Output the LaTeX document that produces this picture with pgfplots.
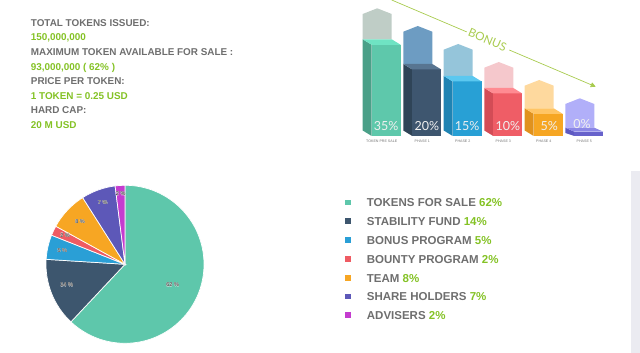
\documentclass[border=0pt]{standalone}
\usepackage{fontspec}
\setmainfont{Liberation Sans}
\newfontfamily\lato{Lato}
\usepackage{pgfplots}
\pgfplotsset{compat=1.18}
\usetikzlibrary{arrows.meta}
\definecolor{greytext}{HTML}{6E6E6E}
\definecolor{greentext}{HTML}{84C225}
\definecolor{bonus}{HTML}{A8CB4E}
\definecolor{stripe}{HTML}{EBEBF1}
% pie colours
\definecolor{cTFS}{HTML}{5EC7AB}
\definecolor{cSF}{HTML}{3D566E}
\definecolor{cBP}{HTML}{2A9FD6}
\definecolor{cBtP}{HTML}{EF5B63}
\definecolor{cTeam}{HTML}{F7A623}
\definecolor{cSH}{HTML}{5D58B8}
\definecolor{cAdv}{HTML}{C43CCF}
% bar colours: ghost, top, side, front
\definecolor{g1}{HTML}{BFCDC6}\definecolor{t1}{HTML}{6FE3C3}\definecolor{s1}{HTML}{4AA088}\definecolor{f1}{HTML}{5EC8AB}
\definecolor{g2}{HTML}{6D9CC2}\definecolor{t2}{HTML}{587591}\definecolor{s2}{HTML}{2F4457}\definecolor{f2}{HTML}{3E566F}
\definecolor{g3}{HTML}{95C5DA}\definecolor{t3}{HTML}{5BC8F0}\definecolor{s3}{HTML}{1F83B3}\definecolor{f3}{HTML}{28A0D5}
\definecolor{g4}{HTML}{F5C8CC}\definecolor{t4}{HTML}{FF8B92}\definecolor{s4}{HTML}{D34C56}\definecolor{f4}{HTML}{EF5D66}
\definecolor{g5}{HTML}{FED99E}\definecolor{t5}{HTML}{FFC565}\definecolor{s5}{HTML}{E0921E}\definecolor{f5}{HTML}{F6A623}
\definecolor{g6}{HTML}{B1AFF9}\definecolor{t6}{HTML}{8C88E6}\definecolor{s6}{HTML}{5E59C2}\definecolor{f6}{HTML}{6762CB}
% thin white halo behind small pie labels
\newcommand\halo[1]{\leavevmode
  \rlap{\textcolor{white!80!gray}{\kern0.22pt #1}}%
  \rlap{\textcolor{white!80!gray}{\kern-0.22pt #1}}%
  \rlap{\textcolor{white!80!gray}{\raisebox{0.22pt}{#1}}}%
  \rlap{\textcolor{white!80!gray}{\raisebox{-0.22pt}{#1}}}%
  #1}
\begin{document}
\begin{tikzpicture}
\useasboundingbox (0pt,0pt) rectangle (640pt,353pt);
\begin{axis}[at={(0pt,0pt)}, anchor=south west, x=1pt, y=1pt,
  xmin=0, xmax=640, ymin=0, ymax=353, hide axis, clip=false, no markers]
% ---------- grey stripe ----------
\fill[stripe] (axis cs:631,0) rectangle (axis cs:640,182.3);
% ---------- top-left text ----------
\begin{scope}[every node/.style={anchor=base west, inner sep=0pt, font=\bfseries\fontsize{9.9}{12}\selectfont}]
\node[text=greytext]  at (axis cs:30.7,326)   {TOTAL TOKENS ISSUED:};
\node[text=greentext] at (axis cs:30.7,312)   {150,000,000};
\node[text=greytext]  at (axis cs:30.7,297)   {MAXIMUM TOKEN AVAILABLE FOR SALE :};
\node[text=greentext] at (axis cs:30.7,282.7) {93,000,000 ( 62\% )};
\node[text=greytext]  at (axis cs:30.7,268.3) {PRICE PER TOKEN:};
\node[text=greentext] at (axis cs:30.7,253.7) {1 TOKEN = 0.25 USD};
\node[text=greytext]  at (axis cs:30.7,239.3) {HARD CAP:};
\node[text=greentext] at (axis cs:30.7,224.7) {20 M USD};
\end{scope}
% ---------- bonus bars (3D) ----------
% bar 1 : 35%
\addplot[fill=g1, draw=none] coordinates {(362.7,313.7)(362.7,339)(377.2,344.7)(391.7,339)(391.7,313.7)} -- cycle;
\addplot[fill=s1, draw=none] coordinates {(362.7,313.7)(371.7,308.2)(371.7,217)(362.7,222.5)} -- cycle;
\addplot[fill=f1, draw=none] coordinates {(371.7,308.2)(400.7,308.2)(400.7,217)(371.7,217)} -- cycle;
\addplot[fill=t1, draw=none] coordinates {(362.7,313.7)(391.7,313.7)(400.7,308.2)(371.7,308.2)} -- cycle;
% bar 2 : 20%
\addplot[fill=g2, draw=none] coordinates {(403.3,289)(403.3,321.3)(417.8,327)(432.3,321.3)(432.3,289)} -- cycle;
\addplot[fill=s2, draw=none] coordinates {(403.3,289)(412.3,283.5)(412.3,217)(403.3,222.5)} -- cycle;
\addplot[fill=f2, draw=none] coordinates {(412.3,283.5)(441.3,283.5)(441.3,217)(412.3,217)} -- cycle;
\addplot[fill=t2, draw=none] coordinates {(403.3,289)(432.3,289)(441.3,283.5)(412.3,283.5)} -- cycle;
% bar 3 : 15%
\addplot[fill=g3, draw=none] coordinates {(443.7,277)(443.7,303.3)(458.2,309)(472.7,303.3)(472.7,277)} -- cycle;
\addplot[fill=s3, draw=none] coordinates {(443.7,277)(452.7,271.5)(452.7,217)(443.7,222.5)} -- cycle;
\addplot[fill=f3, draw=none] coordinates {(452.7,271.5)(481.7,271.5)(481.7,217)(452.7,217)} -- cycle;
\addplot[fill=t3, draw=none] coordinates {(443.7,277)(472.7,277)(481.7,271.5)(452.7,271.5)} -- cycle;
% bar 4 : 10%
\addplot[fill=g4, draw=none] coordinates {(484.3,265)(484.3,285.3)(498.8,291)(513.3,285.3)(513.3,265)} -- cycle;
\addplot[fill=s4, draw=none] coordinates {(484.3,265)(493.3,259.5)(493.3,217)(484.3,222.5)} -- cycle;
\addplot[fill=f4, draw=none] coordinates {(493.3,259.5)(522.3,259.5)(522.3,217)(493.3,217)} -- cycle;
\addplot[fill=t4, draw=none] coordinates {(484.3,265)(513.3,265)(522.3,259.5)(493.3,259.5)} -- cycle;
% bar 5 : 5%
\addplot[fill=g5, draw=none] coordinates {(524.7,244.7)(524.7,267.3)(539.2,273)(553.7,267.3)(553.7,244.7)} -- cycle;
\addplot[fill=s5, draw=none] coordinates {(524.7,244.7)(533.7,239.2)(533.7,217)(524.7,222.5)} -- cycle;
\addplot[fill=f5, draw=none] coordinates {(533.7,239.2)(562.7,239.2)(562.7,217)(533.7,217)} -- cycle;
\addplot[fill=t5, draw=none] coordinates {(524.7,244.7)(553.7,244.7)(562.7,239.2)(533.7,239.2)} -- cycle;
% bar 6 : 0%
\addplot[fill=g6, draw=none] coordinates {(565.3,225.3)(565.3,249)(579.8,254.7)(594.3,249)(594.3,225.3)} -- cycle;
\addplot[fill=s6, draw=none] coordinates {(565.3,225.3)(574.3,221.3)(574.3,217)(565.3,220)} -- cycle;
\addplot[fill=f6, draw=none] coordinates {(574.3,221.3)(603.3,221.3)(603.3,217)(574.3,217)} -- cycle;
\addplot[fill=t6, draw=none] coordinates {(565.3,225.3)(594.3,225.3)(603.3,221.3)(574.3,221.3)} -- cycle;
% percent labels
\begin{scope}[every node/.style={inner sep=0pt, text=white!94!black, font=\lato\fontsize{12.5}{14}\selectfont}]
\node at (axis cs:386.2,227) {35\%};
\node at (axis cs:426.8,227) {20\%};
\node at (axis cs:467.2,227) {15\%};
\node at (axis cs:507.8,227) {10\%};
\node at (axis cs:549.2,227) {5\%};
\node at (axis cs:582.0,229) {0\%};
\end{scope}
% category labels
\begin{scope}[every node/.style={inner sep=0pt, text=black!55, font=\fontsize{3.6}{4}\selectfont}]
\node at (axis cs:381.7,211.3) {TOKEN PRE SALE};
\node at (axis cs:422.3,211.3) {PHASE 1};
\node at (axis cs:462.7,211.3) {PHASE 2};
\node at (axis cs:503.3,211.3) {PHASE 3};
\node at (axis cs:543.7,211.3) {PHASE 4};
\node at (axis cs:584.3,211.3) {PHASE 5};
\end{scope}
% BONUS arrow
\draw[bonus, line width=0.7pt] (axis cs:391.7,353) -- (axis cs:466.7,321.1);
\draw[bonus, line width=0.7pt, -{Triangle[length=5pt,width=5pt]}] (axis cs:509.3,303) -- (axis cs:595.7,266.3);
\node[rotate=-23, inner sep=0pt, text=bonus, font=\lato\fontsize{11.6}{13}\selectfont] at (axis cs:487.5,313) {BONUS};
% ---------- pie ----------
\begin{scope}[draw=white, line width=0.7pt]
\filldraw[fill=cTFS]  (axis cs:125,88.7) -- (axis cs:125,167.7) arc[start angle=90, end angle=-133.2, radius=79pt] -- cycle;
\filldraw[fill=cSF]   (axis cs:125,88.7) -- ++(-133.2:79pt) arc[start angle=-133.2, end angle=-183.6, radius=79pt] -- cycle;
\filldraw[fill=cBP]   (axis cs:125,88.7) -- ++(-183.6:79pt) arc[start angle=-183.6, end angle=-201.6, radius=79pt] -- cycle;
\filldraw[fill=cBtP]  (axis cs:125,88.7) -- ++(-201.6:79pt) arc[start angle=-201.6, end angle=-208.8, radius=79pt] -- cycle;
\filldraw[fill=cTeam] (axis cs:125,88.7) -- ++(-208.8:79pt) arc[start angle=-208.8, end angle=-237.6, radius=79pt] -- cycle;
\filldraw[fill=cSH]   (axis cs:125,88.7) -- ++(-237.6:79pt) arc[start angle=-237.6, end angle=-262.8, radius=79pt] -- cycle;
\filldraw[fill=cAdv]  (axis cs:125,88.7) -- ++(-262.8:79pt) arc[start angle=-262.8, end angle=-270, radius=79pt] -- cycle;
\end{scope}
\begin{scope}[every node/.style={inner sep=0pt, text=black!85, font=\fontsize{5.5}{6}\selectfont}]
\node at (axis cs:172.7,68)    {\halo{62 \%}};
\node at (axis cs:66.7,68)     {\halo{14 \%}};
\node at (axis cs:62.3,102.3)  {\halo{5 \%}};
\node at (axis cs:65,117.7)    {\halo{2 \%}};
\node at (axis cs:80,131.3)    {\halo{8 \%}};
\node at (axis cs:102.7,150.3) {\halo{7 \%}};
\node at (axis cs:120.7,159)   {\halo{2 \%}};
\end{scope}
% ---------- legend ----------
\fill[cTFS]  (axis cs:345,147.5) rectangle (axis cs:350.7,153.2);
\fill[cSF]   (axis cs:345,128.9) rectangle (axis cs:350.7,134.6);
\fill[cBP]   (axis cs:345,109.9) rectangle (axis cs:350.7,115.6);
\fill[cBtP]  (axis cs:345,90.9)  rectangle (axis cs:350.7,96.6);
\fill[cTeam] (axis cs:345,72.2)  rectangle (axis cs:350.7,77.9);
\fill[cSH]   (axis cs:345,53.5)  rectangle (axis cs:350.7,59.2);
\fill[cAdv]  (axis cs:345,34.9)  rectangle (axis cs:350.7,40.6);
\begin{scope}[every node/.style={anchor=base west, inner sep=0pt, text=greytext, font=\bfseries\fontsize{11.5}{13}\selectfont}]
\node at (axis cs:366.7,146.15) {TOKENS FOR SALE \textcolor{greentext}{62\%}};
\node at (axis cs:366.7,127.55) {STABILITY FUND \textcolor{greentext}{14\%}};
\node at (axis cs:366.7,108.55) {BONUS PROGRAM \textcolor{greentext}{5\%}};
\node at (axis cs:366.7,89.55)  {BOUNTY PROGRAM \textcolor{greentext}{2\%}};
\node at (axis cs:366.7,70.85)  {TEAM \textcolor{greentext}{8\%}};
\node at (axis cs:366.7,52.15)  {SHARE HOLDERS \textcolor{greentext}{7\%}};
\node at (axis cs:366.7,33.55)  {ADVISERS \textcolor{greentext}{2\%}};
\end{scope}
\end{axis}
\end{tikzpicture}
\end{document}
